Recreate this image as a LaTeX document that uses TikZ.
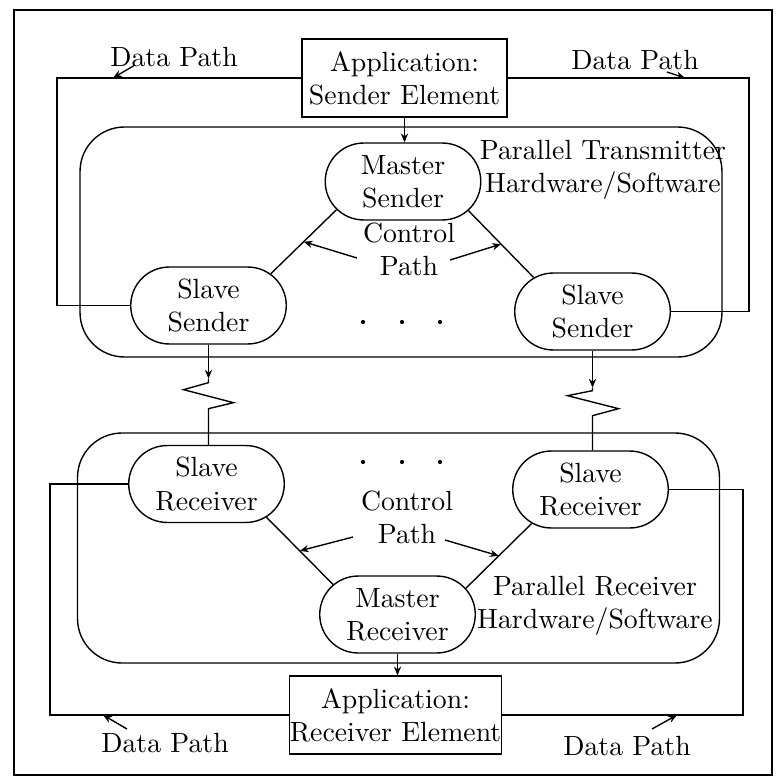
\documentclass[tikz,border=0pt]{standalone}
\usetikzlibrary{arrows.meta,shapes.misc,calc}
\begin{document}
\begin{tikzpicture}[x=0.36pt,y=-0.36pt,line width=0.5pt,
  every node/.style={font=\fontsize{10}{11.9}\selectfont},
  tip/.style={-{Stealth[length=3.2pt,width=2.6pt]}},
  unit/.style={draw,rounded rectangle,minimum width=56pt,minimum height=27.7pt,inner sep=0pt,align=center},
  appbox/.style={draw,rectangle,minimum width=73.8pt,minimum height=28pt,inner sep=0pt,align=center},
  hwbox/.style={draw,rectangle,rounded corners=16pt,minimum width=231.1pt,minimum height=82.8pt,inner sep=0pt},
  lbl/.style={inner sep=0pt,align=center}]
\useasboundingbox (0,0) rectangle (777,780);

% outer frame
\draw[line width=0.65pt] (14,10) rectangle (772,775);

% transmitter and receiver enclosures
\node[hwbox] (tx) at (401,242) {};
\node[hwbox] (rx) at (398.5,548) {};

% application elements and senders/receivers
\node[appbox] (sapp) at (404.5,78) {Application:\\Sender Element};
\node[unit] (ms) at (403,181.5) {Master\\Sender};
\node[unit] (ssl) at (208.5,305.5) {Slave\\Sender};
\node[unit] (ssr) at (592.5,311.5) {Slave\\Sender};
\node[unit] (srl) at (206.5,484) {Slave\\Receiver};
\node[unit] (srr) at (590.5,489.5) {Slave\\Receiver};
\node[unit] (mr) at (397.5,614.5) {Master\\Receiver};
\node[appbox] (rapp) at (395.5,715) {Application:\\Receiver Element};

% labels
\node[lbl] (txl) at (603,170) {Parallel Transmitter\\Hardware/Software};
\node[lbl] (rxl) at (595,606) {Parallel Receiver\\Hardware/Software};
\node[lbl] (ctls) at (409,249) {Control\\Path};
\node[lbl] (ctlr) at (407,517) {Control\\Path};
\node[lbl] (dp1) at (174,57) {Data Path};
\node[lbl] (dp2) at (635,60) {Data Path};
\node[lbl] (dp3) at (165,743) {Data Path};
\node[lbl] (dp4) at (627,746) {Data Path};

% ellipsis dots
\foreach \x in {363,402,440} {
  \fill (\x,322) circle (0.75pt);
  \fill (\x,462) circle (0.75pt);
}

% application to master, master to application
\draw[tip] (sapp.south) -- (sapp.south |- ms.north);
\draw[tip] (mr.south) -- (mr.south |- rapp.north);

% control paths
\draw (ms.203) -- coordinate (c1) (ssl.27);
\draw (ms.336) -- coordinate (c2) (ssr.150);
\draw (srl.331) -- coordinate (c3) (mr.155);
\draw (srr.210) -- coordinate (c4) (mr.21.6);
\draw[tip] ([shift={(-52,9)}]ctls.center) -- (c1);
\draw[tip] ([shift={(41,11)}]ctls.center) -- (c2);
\draw[tip] ([shift={(-54,20)}]ctlr.center) -- (c3);
\draw[tip] ([shift={(38,23)}]ctlr.center) -- (c4);

% data paths
\draw (sapp.west) -- (57,78) |- (ssl.west);
\draw (sapp.east) -- (749,78) |- (ssr.east);
\draw (srl.west) -- (50,484) |- (rapp.west);
\draw (srr.east) -- (743,489.5) |- (rapp.east);
\coordinate (d1) at (113,78);
\coordinate (d2) at (685,78);
\coordinate (d3) at (103,715);
\coordinate (d4) at (677,715);
\draw[tip] ([shift={(-39,8)}]dp1.center) -- (d1);
\draw[tip] ([shift={(32,12)}]dp2.center) -- (d2);
\draw[tip] ([shift={(-38,-14)}]dp3.center) -- (d3);
\draw[tip] ([shift={(25,-17)}]dp4.center) -- (d4);

% links between slave senders and slave receivers
\draw[tip] (ssl.south) -- ++(0,34) coordinate (z1);
\draw (z1) -- ++(0,4) -- ++(-25,7) -- ++(50,13) -- ++(-25,6) -- (z1 |- srl.north);
\draw[tip] (ssr.south) -- ++(0,37) coordinate (z2);
\draw (z2) -- ++(0,3) -- ++(-25,5) -- ++(51,13) -- ++(-26,7) -- (z2 |- srr.north);
\end{tikzpicture}
\end{document}
